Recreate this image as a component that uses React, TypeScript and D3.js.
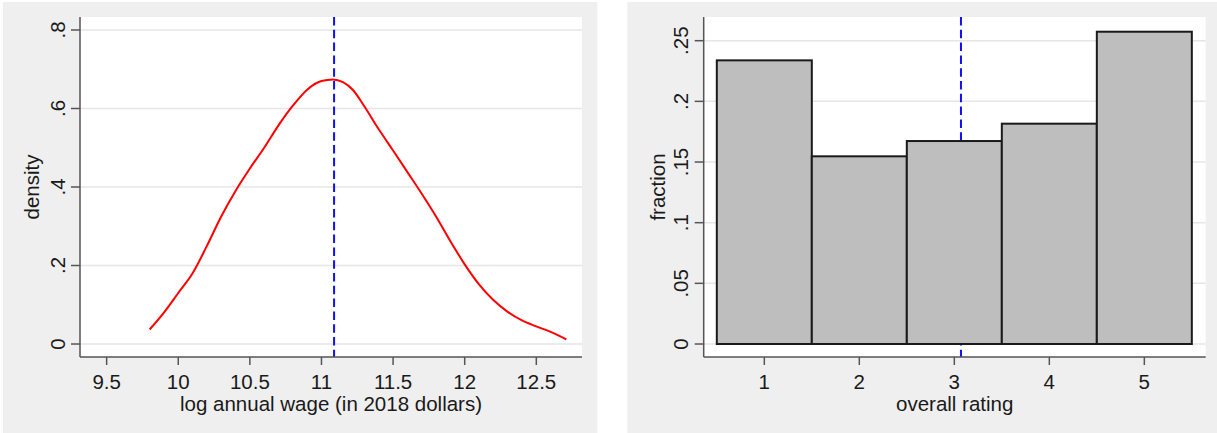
import React from "react";
import * as d3 from "d3";

// ---- Data ----
const wageX = [9.80, 9.90, 10.00, 10.10, 10.20, 10.30, 10.40, 10.50, 10.60, 10.70, 10.80, 10.90, 11.00, 11.08, 11.15, 11.22, 11.30, 11.40, 11.50, 11.60, 11.70, 11.80, 11.90, 12.00, 12.10, 12.20, 12.30, 12.40, 12.50, 12.60, 12.71];
const wageDensity = [0.037, 0.080, 0.130, 0.180, 0.250, 0.325, 0.390, 0.447, 0.500, 0.557, 0.607, 0.648, 0.670, 0.674, 0.667, 0.647, 0.605, 0.547, 0.493, 0.438, 0.383, 0.325, 0.262, 0.203, 0.152, 0.112, 0.082, 0.060, 0.045, 0.031, 0.012];
const wageMean = 11.088;
const wageXTicks = [9.5, 10, 10.5, 11, 11.5, 12, 12.5];
const densityTicks = [0, 0.2, 0.4, 0.6, 0.8];
const densityTickLabels = ["0", ".2", ".4", ".6", ".8"];

const ratings = [1, 2, 3, 4, 5];
const ratingFraction = [0.2338, 0.1547, 0.1673, 0.1816, 0.2574];
const ratingMean = 3.07;
const fractionTicks = [0, 0.05, 0.1, 0.15, 0.2, 0.25];
const fractionTickLabels = ["0", ".05", ".1", ".15", ".2", ".25"];

const FONT = "'Liberation Sans', Arial, sans-serif";
const GRID = "#e6e6e6";
const AXIS = "#555555";
const TEXT = "#1a1a1a";
const FS = 20.5;

type Frame = { left: number; right: number; top: number; bottom: number };

function Grid({ f, y, yTicks }: any) {
  return (
    <g>
      {yTicks.map((t: number, i: number) => (
        <line key={"y" + i} x1={f.left} x2={f.right} y1={y(t)} y2={y(t)} stroke={GRID} strokeWidth={1.5} />
      ))}
    </g>
  );
}

function AxisLines({ f, x, y, xTicks, xLabels, yTicks, yLabels, xTitle, yTitle, yLabelX, yTitleX }: any) {
  return (
    <g fontFamily={FONT} fill={TEXT}>
      <line x1={f.left} x2={f.left} y1={f.top} y2={f.bottom} stroke={AXIS} strokeWidth={1.5} />
      <line x1={f.left} x2={f.right} y1={f.bottom} y2={f.bottom} stroke={AXIS} strokeWidth={1.5} />
      {yTicks.map((t: number, i: number) => (
        <g key={"yt" + i}>
          <line x1={f.left - 9} x2={f.left} y1={y(t)} y2={y(t)} stroke={AXIS} strokeWidth={1.5} />
          <text transform={`translate(${yLabelX},${y(t)}) rotate(-90)`} textAnchor="middle" fontSize={FS}>
            {yLabels[i]}
          </text>
        </g>
      ))}
      {xTicks.map((t: number, i: number) => (
        <g key={"xt" + i}>
          <line x1={x(t)} x2={x(t)} y1={f.bottom} y2={f.bottom + 8} stroke={AXIS} strokeWidth={1.5} />
          <text x={x(t)} y={389} textAnchor="middle" fontSize={FS}>
            {xLabels[i]}
          </text>
        </g>
      ))}
      <text x={(f.left + f.right) / 2} y={410.5} textAnchor="middle" fontSize={FS}>
        {xTitle}
      </text>
      <text
        transform={`translate(${yTitleX},${(f.top + f.bottom) / 2}) rotate(-90)`}
        textAnchor="middle"
        fontSize={FS}
      >
        {yTitle}
      </text>
    </g>
  );
}

export default function App() {
  // Left panel
  const fL: Frame = { left: 80, right: 582, top: 17, bottom: 357 };
  const xL = d3.scaleLinear().domain([9.314, 12.819]).range([fL.left, fL.right]);
  const yL = d3.scaleLinear().domain([-0.0331, 0.8331]).range([fL.bottom, fL.top]);
  const pts: [number, number][] = wageX.map((v, i) => [v, wageDensity[i]]);
  const line = d3
    .line<[number, number]>()
    .x((d) => xL(d[0]))
    .y((d) => yL(d[1]))
    .curve(d3.curveMonotoneX);

  // Right panel
  const fR: Frame = { left: 703.7, right: 1205.7, top: 17, bottom: 357 };
  const xR = d3.scaleLinear().domain([0.362, 5.646]).range([fR.left, fR.right]);
  const yR = d3.scaleLinear().domain([-0.01071, 0.26953]).range([fR.bottom, fR.top]);

  return (
    <svg width={1217} height={433} style={{ position: "absolute", left: 0, top: 0, display: "block" }}>
      <rect x={0} y={0} width={1217} height={433} fill="#ffffff" />
      {/* Left panel */}
      <rect x={3} y={2} width={594.3} height={431} fill="#efefef" />
      <rect x={fL.left} y={fL.top} width={fL.right - fL.left} height={fL.bottom - fL.top} fill="#ffffff" />
      <Grid f={fL} y={yL} yTicks={densityTicks} />
      <path d={line(pts) || ""} fill="none" stroke="#ff0000" strokeWidth={2} />
      <line
        x1={xL(wageMean)}
        x2={xL(wageMean)}
        y1={fL.top}
        y2={fL.bottom}
        stroke="#1010ff"
        strokeWidth={2}
        strokeDasharray="8.5,4.3"
      />
      <AxisLines
        f={fL}
        x={xL}
        y={yL}
        xTicks={wageXTicks}
        xLabels={wageXTicks.map((t) => String(t))}
        yTicks={densityTicks}
        yLabels={densityTickLabels}
        xTitle="log annual wage (in 2018 dollars)"
        yTitle="density"
        yLabelX={64.5}
        yTitleX={39}
      />

      {/* Right panel */}
      <rect x={627.3} y={2} width={1217 - 627.3} height={431} fill="#efefef" />
      <rect x={fR.left} y={fR.top} width={fR.right - fR.left} height={fR.bottom - fR.top} fill="#ffffff" />
      <Grid f={fR} y={yR} yTicks={fractionTicks} />
      <line
        x1={xR(ratingMean)}
        x2={xR(ratingMean)}
        y1={fR.top}
        y2={fR.bottom}
        stroke="#1010ff"
        strokeWidth={2}
        strokeDasharray="8.5,4.3"
      />
      {ratings.map((r, i) => (
        <rect
          key={r}
          x={xR(r - 0.5)}
          y={yR(ratingFraction[i])}
          width={xR(r + 0.5) - xR(r - 0.5)}
          height={yR(0) - yR(ratingFraction[i])}
          fill="#bebebe"
          stroke="#1a1a1a"
          strokeWidth={2}
        />
      ))}
      <AxisLines
        f={fR}
        x={xR}
        y={yR}
        xTicks={ratings}
        xLabels={ratings.map((t) => String(t))}
        yTicks={fractionTicks}
        yLabels={fractionTickLabels}
        xTitle="overall rating"
        yTitle="fraction"
        yLabelX={688}
        yTitleX={665}
      />
    </svg>
  );
}
